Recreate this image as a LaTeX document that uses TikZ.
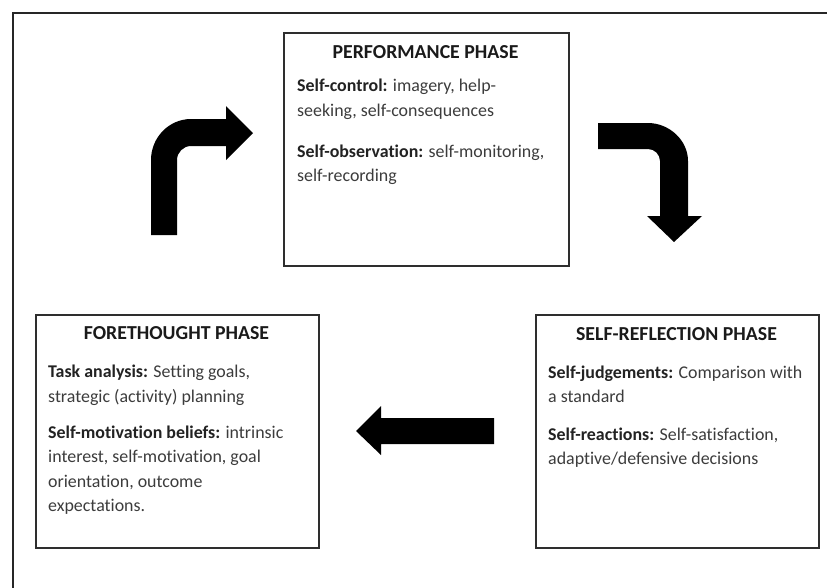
\documentclass[tikz,border=0pt]{standalone}
\usepackage{fontspec}
\setmainfont{Carlito}[Ligatures={NoCommon}]
\definecolor{framecol}{HTML}{262626}
\definecolor{boxcol}{HTML}{2E2E2E}
\definecolor{titlecol}{HTML}{1A1A1A}
\definecolor{labelcol}{HTML}{222222}
\definecolor{bodycol}{HTML}{3C3C3C}
\newcommand{\lbl}[1]{{\bfseries\color{labelcol}#1}}
\begin{document}
\begin{tikzpicture}[x=1pt,y=-1pt,
  phasebox/.style={draw=boxcol, line width=1.5pt, anchor=north west, inner sep=0pt},
  ttl/.style={font=\fontsize{19.8}{24.5}\selectfont\bfseries, text=titlecol, anchor=base, inner sep=0pt},
  para/.style={font=\fontsize{17.9}{24.5}\selectfont, text=bodycol, anchor=base west, inner sep=0pt, align=left},
  blockarrow/.style={fill=black, draw=none}]
\useasboundingbox (0,0) rectangle (827,587);
\fill[white] (0,0) rectangle (827,587);
% outer frame (only top and left visible)
\draw[framecol, line width=2pt] (12.5,590) -- (12.5,12.5) -- (830,12.5);

% boxes
\node[phasebox, minimum width=285pt, minimum height=233pt] (perf) at (283,32) {};
\node[phasebox, minimum width=283pt, minimum height=233pt] (fore) at (35,314) {};
\node[phasebox, minimum width=283pt, minimum height=233pt] (refl) at (535,314) {};

% performance text (anchors at baseline of last line)
\node[ttl] (perft) at (425.5,58.4) {PERFORMANCE PHASE};
\node[para] (perf1) at (297,116) {\lbl{Self-control:} imagery, help-\\seeking, self-consequences};
\node[para] (perf2) at (297,181.5) {\lbl{Self-observation:} self-monitoring,\\self-recording};

% forethought text
\node[ttl] (foret) at (176.5,339.4) {FORETHOUGHT PHASE};
\node[para] (fore1) at (48,402) {\lbl{Task analysis:} Setting goals,\\strategic (activity) planning};
\node[para] (fore2) at (48,511.5) {\lbl{Self-motivation beliefs:} intrinsic\\interest, self-motivation, goal\\orientation, outcome\\expectations.};

% self-reflection text
\node[ttl] (reflt) at (676.5,340.4) {SELF-REFLECTION PHASE};
\node[para] (refl1) at (548,402.5) {\lbl{Self-judgements:} Comparison with\\a standard};
\node[para] (refl2) at (548,464.5) {\lbl{Self-reactions:} Self-satisfaction,\\adaptive/defensive decisions};

% block arrows
\fill[blockarrow] (151,235) -- (151,160) .. controls (151,137.4) and (169,119) .. (191,119)
  -- (226,119) -- (226,106) -- (253,133) -- (226,160) -- (226,146) -- (191,146)
  .. controls (183.3,146) and (177,152.3) .. (177,160) -- (177,235) -- cycle;
\fill[blockarrow] (598,123) -- (648,123) .. controls (669,123) and (688,140) .. (688,161)
  -- (688,216) -- (702,216) -- (674,242) -- (647,216) -- (660,216) -- (660,161)
  .. controls (660,154.4) and (654.6,149) .. (648,149) -- (598,149) -- cycle;
\fill[blockarrow] (494,418) -- (381,418) -- (381,406) -- (356,431) -- (381,455)
  -- (381,444) -- (494,444) -- cycle;
\end{tikzpicture}
\end{document}
